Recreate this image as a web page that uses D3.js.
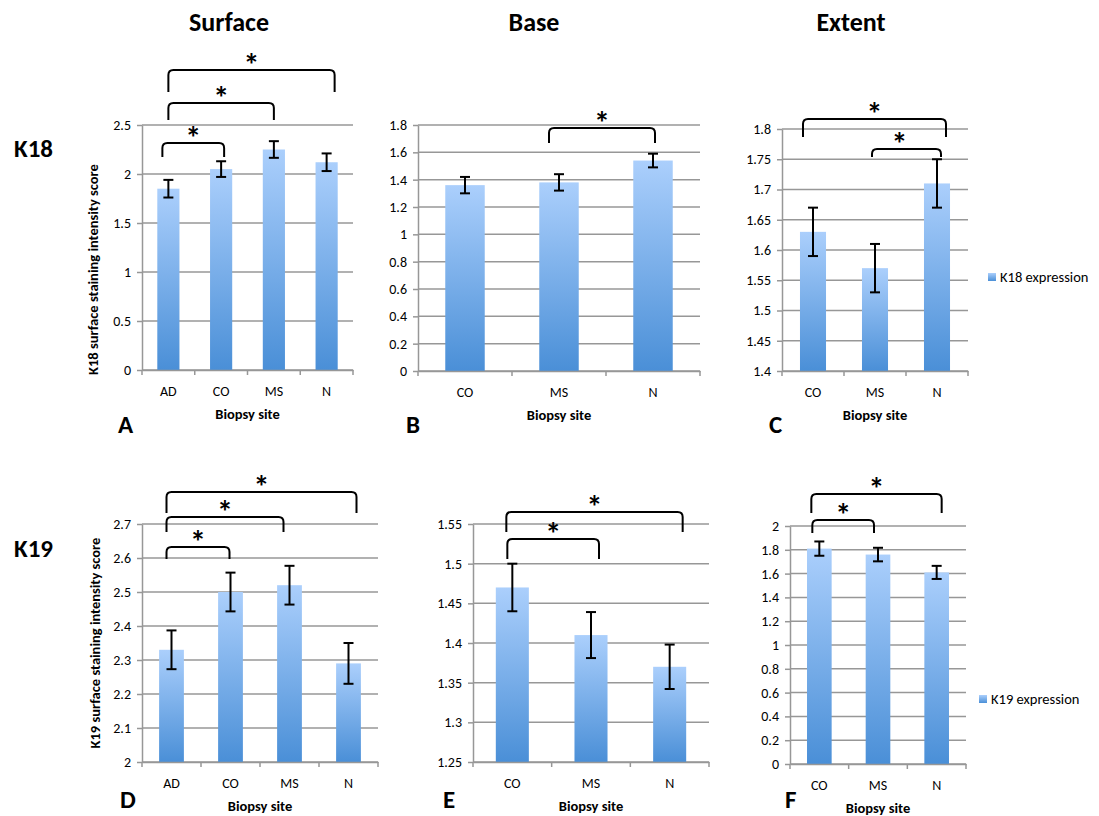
<!DOCTYPE html>
<html>
<head>
<meta charset="utf-8">
<script src="https://cdn.jsdelivr.net/npm/d3@7"></script>
<style>
  body { margin: 0; background: #fff; }
  svg { display: block; font-family: Carlito, Lato, "Liberation Sans", sans-serif; }
</style>
</head>
<body>
<svg id="fig" width="1099" height="816"></svg>
<script>
// Biopsy sites
const sites4 = ["AD", "CO", "MS", "N"];
const sites3 = ["CO", "MS", "N"];

// K18 mean scores and error (SEM)
const k18Surface    = [1.85, 2.05, 2.25, 2.12];
const k18SurfaceErr = [0.09, 0.08, 0.085, 0.09];
const k18Base       = [1.36, 1.38, 1.54];
const k18BaseErr    = [0.06, 0.06, 0.05];
const k18Extent     = [1.63, 1.57, 1.71];
const k18ExtentErr  = [0.04, 0.04, 0.04];

// K19 mean scores and error (SEM)
const k19Surface    = [2.33, 2.50, 2.52, 2.29];
const k19SurfaceErr = [0.057, 0.057, 0.057, 0.06];
const k19Base       = [1.47, 1.41, 1.37];
const k19BaseErr    = [0.03, 0.029, 0.028];
const k19Extent     = [1.81, 1.76, 1.61];
const k19ExtentErr  = [0.06, 0.057, 0.055];

// Y tick labels
const ticksK18Surface = ["0", "0.5", "1", "1.5", "2", "2.5"];
const ticksK18Base    = ["0", "0.2", "0.4", "0.6", "0.8", "1", "1.2", "1.4", "1.6", "1.8"];
const ticksK18Extent  = ["1.4", "1.45", "1.5", "1.55", "1.6", "1.65", "1.7", "1.75", "1.8"];
const ticksK19Surface = ["2", "2.1", "2.2", "2.3", "2.4", "2.5", "2.6", "2.7"];
const ticksK19Base    = ["1.25", "1.3", "1.35", "1.4", "1.45", "1.5", "1.55"];
const ticksK19Extent  = ["0", "0.2", "0.4", "0.6", "0.8", "1", "1.2", "1.4", "1.6", "1.8", "2"];

// Significant pairwise differences
const sigK18Surface = [["AD", "CO"], ["AD", "MS"], ["AD", "N"]];
const sigK18Base    = [["MS", "N"]];
const sigK18Extent  = [["CO", "N"], ["MS", "N"]];
const sigK19Surface = [["AD", "CO"], ["AD", "MS"], ["AD", "N"]];
const sigK19Base    = [["CO", "MS"], ["CO", "N"]];
const sigK19Extent  = [["CO", "MS"], ["CO", "N"]];

const svg = d3.select("#fig");

// Bar fill gradient
const defs = svg.append("defs");
const grad = defs.append("linearGradient").attr("id", "barFill")
  .attr("x1", 0).attr("y1", 0).attr("x2", 0).attr("y2", 1);
grad.append("stop").attr("offset", "0%").attr("stop-color", "#abcffc");
grad.append("stop").attr("offset", "100%").attr("stop-color", "#4a8fd7");

const GRID = "#979797";
const TICK_FONT = 14;

// Column and row headings
[["Surface", 229], ["Base", 534], ["Extent", 851]].forEach(([t, x]) => {
  svg.append("text").attr("x", x).attr("y", 31).attr("text-anchor", "middle")
    .attr("font-size", 26).attr("font-weight", "bold").text(t);
});
[["K18", 157], ["K19", 557]].forEach(([t, y]) => {
  svg.append("text").attr("x", 14).attr("y", y)
    .attr("font-size", 25).attr("font-weight", "bold").text(t);
});

function drawPanel(p) {
  const g = svg.append("g");
  const tv = p.ticks.map(Number);
  const y = d3.scaleLinear().domain([tv[0], tv[tv.length - 1]]).range([p.yBot, p.yTop]);
  const x = d3.scaleBand().domain(p.cats).range([p.x0, p.x1])
    .paddingInner(0.58).paddingOuter(0.29);

  // horizontal gridlines
  g.append("g").selectAll("line").data(tv).join("line")
    .attr("x1", p.x0).attr("x2", p.x1)
    .attr("y1", d => y(d)).attr("y2", d => y(d))
    .attr("stroke", GRID).attr("stroke-width", 1.5);

  // bars
  g.append("g").selectAll("rect").data(p.vals).join("rect")
    .attr("x", (d, i) => x(p.cats[i]))
    .attr("width", x.bandwidth())
    .attr("y", d => y(d))
    .attr("height", d => p.yBot - y(d))
    .attr("fill", "url(#barFill)");

  // y axis
  const ya = g.append("g").attr("transform", `translate(${p.x0},0)`)
    .call(d3.axisLeft(y).tickValues(tv).tickFormat((d, i) => p.ticks[i])
      .tickSize(5).tickSizeOuter(0).tickPadding(6));
  ya.select(".domain").attr("stroke", GRID).attr("stroke-width", 1.5);
  ya.selectAll(".tick line").attr("stroke", GRID).attr("stroke-width", 1.5);
  ya.selectAll(".tick text").attr("font-size", TICK_FONT).attr("fill", "#000")
    .attr("font-family", "Carlito, Lato, sans-serif");

  // x axis: labels at band centres, tick marks at band boundaries
  const xa = g.append("g").attr("transform", `translate(0,${p.yBot})`)
    .call(d3.axisBottom(x).tickSize(0).tickSizeOuter(0).tickPadding(16));
  xa.select(".domain").attr("stroke", GRID).attr("stroke-width", 1.5);
  xa.selectAll(".tick text").attr("font-size", TICK_FONT).attr("fill", "#000")
    .attr("font-family", "Carlito, Lato, sans-serif");
  g.append("g").selectAll("line").data(d3.range(p.cats.length + 1)).join("line")
    .attr("x1", i => p.x0 + i * x.step()).attr("x2", i => p.x0 + i * x.step())
    .attr("y1", p.yBot).attr("y2", p.yBot + 5)
    .attr("stroke", GRID).attr("stroke-width", 1.5);

  // error bars
  const cx = i => x(p.cats[i]) + x.bandwidth() / 2;
  const eb = g.append("g").attr("stroke", "#000").attr("stroke-width", 2);
  p.vals.forEach((v, i) => {
    const e = p.errs[i];
    eb.append("line").attr("x1", cx(i)).attr("x2", cx(i))
      .attr("y1", y(v + e)).attr("y2", y(v - e));
    [v + e, v - e].forEach(w => eb.append("line")
      .attr("x1", cx(i) - 5).attr("x2", cx(i) + 5)
      .attr("y1", y(w)).attr("y2", y(w)));
  });

  // axis titles and panel letter
  g.append("text").attr("x", (p.x0 + p.x1) / 2).attr("y", p.yBot + 49)
    .attr("text-anchor", "middle").attr("font-size", 14.5).attr("font-weight", "bold")
    .text("Biopsy site");
  if (p.yTitle) {
    g.append("text")
      .attr("transform", `translate(${p.yTitleX},${(p.yTop + p.yBot) / 2 + p.yTitleDy}) rotate(-90)`)
      .attr("text-anchor", "middle").attr("font-size", 14.5).attr("font-weight", "bold")
      .text(p.yTitle);
  }
  g.append("text").attr("x", p.letterX).attr("y", p.letterY)
    .attr("font-size", 25).attr("font-weight", "bold").text(p.letter);

  // significance brackets
  const bg = g.append("g");
  p.sig.forEach((pair, k) => {
    const b = p.brackets[k];
    const xa1 = cx(p.cats.indexOf(pair[0])) + b.dx1;
    const xa2 = cx(p.cats.indexOf(pair[1])) + b.dx2;
    const r = 5;
    const path = d3.path();
    path.moveTo(xa1, b.leg);
    path.lineTo(xa1, b.top + r);
    path.quadraticCurveTo(xa1, b.top, xa1 + r, b.top);
    path.lineTo(xa2 - r, b.top);
    path.quadraticCurveTo(xa2, b.top, xa2, b.top + r);
    path.lineTo(xa2, b.leg);
    bg.append("path").attr("d", path.toString())
      .attr("fill", "none").attr("stroke", "#000").attr("stroke-width", 2);
    bg.append("text").attr("x", (xa1 + xa2) / 2 + (b.sx || 0)).attr("y", b.top + 6)
      .attr("text-anchor", "middle").attr("font-size", 32).attr("font-weight", "bold")
      .text("*");
  });

  // legend
  if (p.legend) {
    svg.append("rect").attr("x", p.legend.x).attr("y", p.legend.y - 4)
      .attr("width", 8).attr("height", 8).attr("fill", "url(#barFill)");
    svg.append("text").attr("x", p.legend.x + 12).attr("y", p.legend.y + 5)
      .attr("font-size", 14.5).text(p.legend.text);
  }
}

drawPanel({
  cats: sites4, vals: k18Surface, errs: k18SurfaceErr, ticks: ticksK18Surface, sig: sigK18Surface,
  x0: 142, x1: 353, yTop: 125, yBot: 370,
  yTitle: "K18 surface staining intensity score", yTitleX: 98, yTitleDy: 22,
  letter: "A", letterX: 118, letterY: 433,
  brackets: [
    { top: 143, leg: 157, dx1: -6, dx2: 3 },
    { top: 103, leg: 120, dx1: 0, dx2: 0 },
    { top: 70, leg: 92, dx1: 0, dx2: 8 }
  ]
});
drawPanel({
  cats: sites3, vals: k18Base, errs: k18BaseErr, ticks: ticksK18Base, sig: sigK18Base,
  x0: 418, x1: 700, yTop: 125, yBot: 371,
  letter: "B", letterX: 406, letterY: 433,
  brackets: [{ top: 128, leg: 143, dx1: -10, dx2: 2 }]
});
drawPanel({
  cats: sites3, vals: k18Extent, errs: k18ExtentErr, ticks: ticksK18Extent, sig: sigK18Extent,
  x0: 782, x1: 968, yTop: 129, yBot: 371,
  letter: "C", letterX: 769, letterY: 433,
  brackets: [
    { top: 119, leg: 137, dx1: -10, dx2: 9 },
    { top: 149, leg: 157, dx1: -3, dx2: 4, sx: -7 }
  ],
  legend: { x: 988, y: 277, text: "K18 expression" }
});
drawPanel({
  cats: sites4, vals: k19Surface, errs: k19SurfaceErr, ticks: ticksK19Surface, sig: sigK19Surface,
  x0: 142, x1: 378, yTop: 524, yBot: 762,
  yTitle: "K19 surface staining intensity score", yTitleX: 100, yTitleDy: 0,
  letter: "D", letterX: 120, letterY: 808,
  brackets: [
    { top: 547, leg: 559, dx1: -5, dx2: -1 },
    { top: 517, leg: 532, dx1: -5, dx2: -6 },
    { top: 492, leg: 513, dx1: -5, dx2: 8 }
  ]
});
drawPanel({
  cats: sites3, vals: k19Base, errs: k19BaseErr, ticks: ticksK19Base, sig: sigK19Base,
  x0: 473, x1: 709, yTop: 524, yBot: 762,
  letter: "E", letterX: 443, letterY: 808,
  brackets: [
    { top: 539, leg: 559, dx1: -5, dx2: 8 },
    { top: 512, leg: 532, dx1: -6, dx2: 13 }
  ]
});
drawPanel({
  cats: sites3, vals: k19Extent, errs: k19ExtentErr, ticks: ticksK19Extent, sig: sigK19Extent,
  x0: 790, x1: 966, yTop: 526, yBot: 764,
  letter: "F", letterX: 785, letterY: 808,
  brackets: [
    { top: 520, leg: 533, dx1: -7, dx2: -4 },
    { top: 494, leg: 513, dx1: -8, dx2: 5 }
  ],
  legend: { x: 979, y: 699, text: "K19 expression" }
});
</script>
</body>
</html>
